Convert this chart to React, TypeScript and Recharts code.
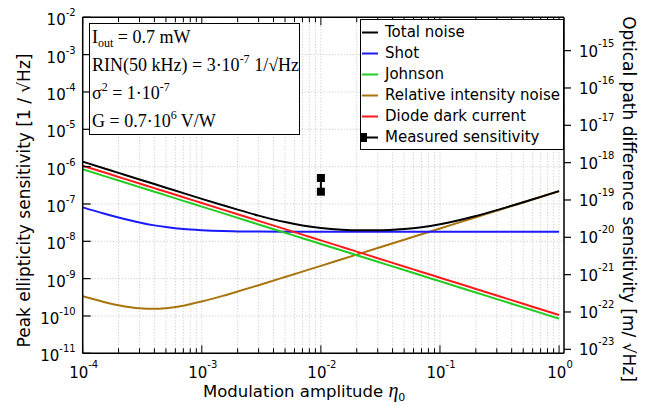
import React from "react";
import { LineChart, Line, XAxis, YAxis, CartesianGrid } from "recharts";

// modulation amplitude eta_0
const eta = [1e-4, 1.5e-4, 2e-4, 3e-4, 4e-4, 5e-4, 7e-4, 1e-3, 1.5e-3, 2e-3, 3e-3, 5e-3, 7e-3, 1e-2, 1.5e-2, 2e-2, 3e-2, 5e-2, 7e-2, 1e-1, 2e-1, 3e-1, 5e-1, 7e-1, 1];
const totalNoise = [1.36e-6, 9.08e-7, 6.81e-7, 4.54e-7, 3.41e-7, 2.73e-7, 1.95e-7, 1.37e-7, 9.25e-8, 7.04e-8, 4.88e-8, 3.27e-8, 2.65e-8, 2.27e-8, 2.04e-8, 1.97e-8, 1.97e-8, 2.13e-8, 2.38e-8, 2.85e-8, 4.75e-8, 6.84e-8, 1.115e-7, 1.55e-7, 2.21e-7];
const shotNoise = [8.1e-8, 5.56e-8, 4.34e-8, 3.19e-8, 2.67e-8, 2.4e-8, 2.12e-8, 1.97e-8, 1.875e-8, 1.843e-8, 1.82e-8, 1.807e-8, 1.803e-8, 1.8e-8, 1.8e-8, 1.8e-8, 1.8e-8, 1.8e-8, 1.8e-8, 1.8e-8, 1.8e-8, 1.8e-8, 1.8e-8, 1.8e-8, 1.8e-8];
const johnsonNoise = [8.5e-7, 5.67e-7, 4.25e-7, 2.83e-7, 2.13e-7, 1.7e-7, 1.21e-7, 8.5e-8, 5.67e-8, 4.25e-8, 2.83e-8, 1.7e-8, 1.21e-8, 8.5e-9, 5.67e-9, 4.25e-9, 2.83e-9, 1.7e-9, 1.21e-9, 8.5e-10, 4.25e-10, 2.83e-10, 1.7e-10, 1.21e-10, 8.5e-11];
const rinNoise = [3.36e-10, 2.38e-10, 1.94e-10, 1.6e-10, 1.55e-10, 1.62e-10, 1.89e-10, 2.44e-10, 3.45e-10, 4.51e-10, 6.68e-10, 1.105e-9, 1.543e-9, 2.2e-9, 3.3e-9, 4.4e-9, 6.6e-9, 1.1e-8, 1.54e-8, 2.2e-8, 4.4e-8, 6.6e-8, 1.1e-7, 1.54e-7, 2.2e-7];
const darkNoise = [1.06e-6, 7.07e-7, 5.3e-7, 3.53e-7, 2.65e-7, 2.12e-7, 1.51e-7, 1.06e-7, 7.07e-8, 5.3e-8, 3.53e-8, 2.12e-8, 1.51e-8, 1.06e-8, 7.07e-9, 5.3e-9, 3.53e-9, 2.12e-9, 1.51e-9, 1.06e-9, 5.3e-10, 3.53e-10, 2.12e-10, 1.51e-10, 1.06e-10];

const measuredEta = [1e-2, 1e-2];
const measuredValue = [4.96e-7, 2.13e-7];

const xTicks = [
  1e-4, 2e-4, 3e-4, 4e-4, 5e-4, 6e-4, 7e-4, 8e-4, 9e-4,
  1e-3, 2e-3, 3e-3, 4e-3, 5e-3, 6e-3, 7e-3, 8e-3, 9e-3,
  1e-2, 2e-2, 3e-2, 4e-2, 5e-2, 6e-2, 7e-2, 8e-2, 9e-2,
  1e-1, 2e-1, 3e-1, 4e-1, 5e-1, 6e-1, 7e-1, 8e-1, 9e-1,
  1,
];
const yTicks = [1e-2, 1e-3, 1e-4, 1e-5, 1e-6, 1e-7, 1e-8, 1e-9, 1e-10, 1e-11];
const rightTicks = [1e-15, 1e-16, 1e-17, 1e-18, 1e-19, 1e-20, 1e-21, 1e-22, 1e-23];

const legendItems = [
  { name: "Total noise", color: "#000000" },
  { name: "Shot", color: "#1a1aff" },
  { name: "Johnson", color: "#22cc22" },
  { name: "Relative intensity noise", color: "#a8740c" },
  { name: "Diode dark current", color: "#ff1a1a" },
  { name: "Measured sensitivity", color: "#000000", marker: true },
];

const data = eta.map((e, i) => ({
  eta: e,
  total: totalNoise[i],
  shot: shotNoise[i],
  johnson: johnsonNoise[i],
  rin: rinNoise[i],
  dark: darkNoise[i],
}));
const measured = measuredEta.map((e, i) => ({ eta: e, v: measuredValue[i] }));

const SANS = "DejaVu Sans";
const SERIF = "Liberation Serif";

const W = 632;
const H = 395;
// plot area: left 74.7, top 9.3, right 556, bottom 345.3 (axes take 1px each)
const M = { top: 8.3, left: 73.7, right: 75, bottom: 48.7 };

const expOf = (v: number) => Math.round(Math.log10(v));
const isMajor = (v: number) => Math.abs(Math.log10(v) - Math.round(Math.log10(v))) < 1e-6;

const BottomTick = (props: any) => {
  const { x, y, payload } = props;
  const v = payload.value;
  const major = isMajor(v);
  return (
    <g>
      <line x1={x} x2={x} y1={y} y2={y - (major ? 8 : 5)} stroke="#000" strokeWidth={1} />
      {major && (
        <text x={x + 1} y={y + 25} textAnchor="middle" fontFamily={SANS} fontSize={15} fill="#000">
          10<tspan dy={-10} fontSize={10}>{String(expOf(v))}</tspan>
        </text>
      )}
    </g>
  );
};

const TopTick = (props: any) => {
  const { x, y, payload } = props;
  const major = isMajor(payload.value);
  return <line x1={x} x2={x} y1={y} y2={y + (major ? 8 : 5)} stroke="#000" strokeWidth={1} />;
};

const LeftTick = (props: any) => {
  const { x, y, payload } = props;
  return (
    <g>
      <line x1={x} x2={x + 8} y1={y} y2={y} stroke="#000" strokeWidth={1.2} />
      <text x={x - 7} y={y + 8} textAnchor="end" fontFamily={SANS} fontSize={15} fill="#000">
        10<tspan dy={-9} fontSize={10}>{String(expOf(payload.value))}</tspan>
      </text>
    </g>
  );
};

const RightTick = (props: any) => {
  const { x, y, payload } = props;
  return (
    <g>
      <line x1={x} x2={x + 7} y1={y} y2={y} stroke="#000" strokeWidth={1.2} />
      <text x={x + 15} y={y + 6} textAnchor="start" fontFamily={SANS} fontSize={15} fill="#000">
        10<tspan dy={-10} fontSize={10}>{String(expOf(payload.value))}</tspan>
      </text>
    </g>
  );
};

const SquareDot = (props: any) => {
  const { cx, cy, index } = props;
  return <rect key={`m-${index}`} x={cx - 4} y={cy - 4} width={8} height={8} fill="#000" />;
};

const axisLine = { stroke: "#000", strokeWidth: 1.5 };

export default function App() {
  return (
    <div style={{ position: "relative", width: W, height: H }}>
      <LineChart width={W} height={H} data={data} margin={M}>
        <CartesianGrid stroke="#c4c4c4" strokeDasharray="1 2" />
        <XAxis
          dataKey="eta"
          type="number"
          scale="log"
          domain={[1e-4, 1.1]}
          allowDataOverflow
          ticks={xTicks}
          interval={0}
          height={1}
          tickSize={0}
          tickMargin={0}
          tickLine={false}
          axisLine={axisLine}
          tick={<BottomTick />}
        />
        <XAxis
          xAxisId="top"
          orientation="top"
          dataKey="eta"
          type="number"
          scale="log"
          domain={[1e-4, 1.1]}
          allowDataOverflow
          ticks={xTicks}
          interval={0}
          height={1}
          tickSize={0}
          tickMargin={0}
          tickLine={false}
          axisLine={axisLine}
          tick={<TopTick />}
        />
        <YAxis
          type="number"
          scale="log"
          domain={[1e-11, 1e-2]}
          allowDataOverflow
          ticks={yTicks}
          interval={0}
          width={1}
          tickSize={0}
          tickMargin={0}
          tickLine={false}
          axisLine={axisLine}
          tick={<LeftTick />}
        />
        <YAxis
          yAxisId="right"
          orientation="right"
          type="number"
          scale="log"
          domain={[7.82e-24, 7.82e-15]}
          allowDataOverflow
          ticks={rightTicks}
          interval={0}
          width={1}
          tickSize={0}
          tickMargin={0}
          tickLine={false}
          axisLine={axisLine}
          tick={<RightTick />}
        />
        <Line type="monotone" dataKey="rin" stroke="#a8740c" strokeWidth={2} dot={false} isAnimationActive={false} />
        <Line type="monotone" dataKey="shot" stroke="#1a1aff" strokeWidth={2} dot={false} isAnimationActive={false} />
        <Line type="monotone" dataKey="johnson" stroke="#22cc22" strokeWidth={2} dot={false} isAnimationActive={false} />
        <Line type="monotone" dataKey="dark" stroke="#ff1a1a" strokeWidth={2} dot={false} isAnimationActive={false} />
        <Line type="monotone" dataKey="total" stroke="#000000" strokeWidth={2} dot={false} isAnimationActive={false} />
        <Line
          data={measured}
          type="linear"
          dataKey="v"
          stroke="#000"
          strokeWidth={2}
          dot={<SquareDot />}
          isAnimationActive={false}
        />
      </LineChart>

      <svg width={W} height={H} style={{ position: "absolute", left: 0, top: 0, pointerEvents: "none" }}>
        <text
          transform="translate(21.5,192.5) rotate(-90)"
          textAnchor="middle"
          fontFamily={SANS}
          fontSize={17}
          fill="#000"
        >
          Peak ellipticity sensitivity [1 / √Hz]
        </text>
        <text
          transform="translate(614.6,191) rotate(90)"
          textAnchor="middle"
          fontFamily={SANS}
          fontSize={17}
          fill="#000"
        >
          Optical path difference sensitivity [m/ √Hz]
        </text>
        <text x={195} y={389} fontFamily={SANS} fontSize={16.5} fill="#000">
          Modulation amplitude{" "}
          <tspan fontFamily={SERIF} fontStyle="italic" fontSize={20}>η</tspan>
          <tspan dy={4} fontSize={11}>0</tspan>
        </text>
      </svg>

      <div
        style={{
          position: "absolute",
          left: 81,
          top: 15,
          width: 211,
          height: 112,
          boxSizing: "border-box",
          border: "1.5px solid #000",
          background: "#fff",
          fontFamily: SERIF,
          fontSize: 18,
          color: "#000",
          paddingLeft: 2,
          whiteSpace: "nowrap",
        }}
      >
        <div style={{ height: 28, lineHeight: "28px", marginTop: -1 }}>
          I<span style={{ fontSize: 12, position: "relative", top: 4 }}>out</span> = 0.7 mW
        </div>
        <div style={{ height: 28, lineHeight: "28px" }}>
          RIN(50 kHz) = 3·10<span style={{ fontSize: 12, position: "relative", top: -8 }}>-7</span> 1/√Hz
        </div>
        <div style={{ height: 28, lineHeight: "28px" }}>
          σ<span style={{ fontSize: 12, position: "relative", top: -8 }}>2</span> = 1·10
          <span style={{ fontSize: 12, position: "relative", top: -8 }}>-7</span>
        </div>
        <div style={{ height: 28, lineHeight: "28px" }}>
          G = 0.7·10<span style={{ fontSize: 12, position: "relative", top: -8 }}>6</span> V/W
        </div>
      </div>

      <div
        style={{
          position: "absolute",
          left: 352,
          top: 11,
          width: 204,
          height: 131,
          boxSizing: "border-box",
          border: "1.5px solid #000",
          background: "#fff",
          fontFamily: SANS,
          fontSize: 15,
          color: "#000",
          paddingTop: 2,
          whiteSpace: "nowrap",
        }}
      >
        {legendItems.map((it) => (
          <div key={it.name} style={{ height: 21, lineHeight: "21px", display: "flex", alignItems: "center" }}>
            <svg width={24} height={21} style={{ flex: "none" }}>
              <line x1={1} x2={17} y1={10.5} y2={10.5} stroke={it.color} strokeWidth={2} />
              {it.marker && <rect x={0} y={6} width={6} height={9} fill="#000" />}
            </svg>
            <span>{it.name}</span>
          </div>
        ))}
      </div>
    </div>
  );
}
